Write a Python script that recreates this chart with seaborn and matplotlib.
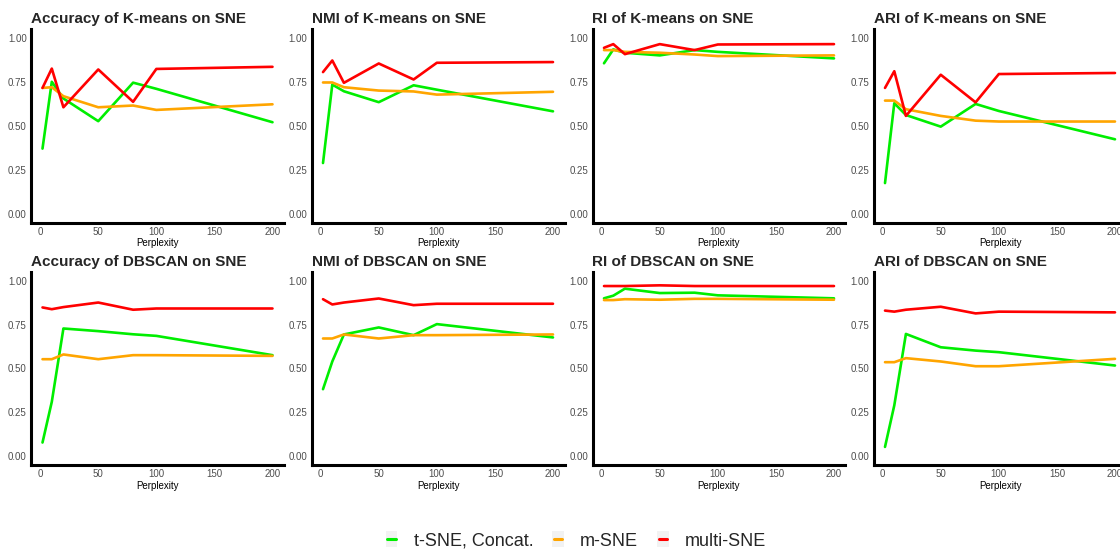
import numpy as np
import pandas as pd
import seaborn as sns
import matplotlib
matplotlib.use("Agg")
import matplotlib.pyplot as plt
from matplotlib.legend_handler import HandlerBase
from matplotlib.patches import Rectangle
from matplotlib.lines import Line2D

# ---------------- data ----------------
perplexity = [2, 10, 20, 50, 80, 100, 200]
methods = ["t-SNE, Concat.", "m-SNE", "multi-SNE"]

titles = [
    "Accuracy of K-means on SNE", "NMI of K-means on SNE",
    "RI of K-means on SNE", "ARI of K-means on SNE",
    "Accuracy of DBSCAN on SNE", "NMI of DBSCAN on SNE",
    "RI of DBSCAN on SNE", "ARI of DBSCAN on SNE",
]

# K-means
acc_km_tsne  = [0.37, 0.75, 0.655, 0.526, 0.745, 0.71, 0.52]
acc_km_msne  = [0.715, 0.719, 0.668, 0.605, 0.615, 0.59, 0.622]
acc_km_multi = [0.715, 0.825, 0.605, 0.82, 0.636, 0.823, 0.835]

nmi_km_tsne  = [0.288, 0.734, 0.696, 0.634, 0.73, 0.705, 0.582]
nmi_km_msne  = [0.746, 0.746, 0.719, 0.70, 0.695, 0.677, 0.693]
nmi_km_multi = [0.805, 0.871, 0.744, 0.854, 0.763, 0.858, 0.862]

ri_km_tsne   = [0.855, 0.934, 0.915, 0.90, 0.93, 0.92, 0.883]
ri_km_msne   = [0.93, 0.93, 0.92, 0.915, 0.905, 0.896, 0.90]
ri_km_multi  = [0.943, 0.964, 0.907, 0.964, 0.93, 0.962, 0.964]

ari_km_tsne  = [0.174, 0.628, 0.561, 0.495, 0.624, 0.584, 0.423]
ari_km_msne  = [0.643, 0.643, 0.594, 0.556, 0.529, 0.524, 0.524]
ari_km_multi = [0.715, 0.81, 0.556, 0.79, 0.633, 0.794, 0.80]

# DBSCAN
acc_db_tsne  = [0.078, 0.31, 0.728, 0.713, 0.695, 0.686, 0.576]
acc_db_msne  = [0.553, 0.553, 0.58, 0.553, 0.576, 0.576, 0.572]
acc_db_multi = [0.848, 0.838, 0.85, 0.876, 0.835, 0.842, 0.842]

nmi_db_tsne  = [0.382, 0.54, 0.694, 0.734, 0.69, 0.753, 0.677]
nmi_db_msne  = [0.671, 0.671, 0.694, 0.671, 0.69, 0.69, 0.694]
nmi_db_multi = [0.895, 0.865, 0.876, 0.899, 0.861, 0.869, 0.869]

ri_db_tsne   = [0.90, 0.915, 0.955, 0.93, 0.932, 0.917, 0.90]
ri_db_msne   = [0.89, 0.89, 0.895, 0.892, 0.897, 0.897, 0.892]
ri_db_multi  = [0.97, 0.97, 0.97, 0.974, 0.97, 0.97, 0.97]

ari_db_tsne  = [0.053, 0.29, 0.697, 0.621, 0.602, 0.593, 0.517]
ari_db_msne  = [0.536, 0.536, 0.559, 0.54, 0.513, 0.513, 0.555]
ari_db_multi = [0.83, 0.824, 0.835, 0.852, 0.814, 0.824, 0.82]

panels = [
    (acc_km_tsne, acc_km_msne, acc_km_multi),
    (nmi_km_tsne, nmi_km_msne, nmi_km_multi),
    (ri_km_tsne, ri_km_msne, ri_km_multi),
    (ari_km_tsne, ari_km_msne, ari_km_multi),
    (acc_db_tsne, acc_db_msne, acc_db_multi),
    (nmi_db_tsne, nmi_db_msne, nmi_db_multi),
    (ri_db_tsne, ri_db_msne, ri_db_multi),
    (ari_db_tsne, ari_db_msne, ari_db_multi),
]

colors = {"t-SNE, Concat.": "#00EE00", "m-SNE": "#FFA500", "multi-SNE": "#FF0000"}

# ---------------- style ----------------
sns.set_style("white")
plt.rcParams["font.family"] = ["Liberation Sans", "DejaVu Sans"]

W, H = 1120, 550
fig = plt.figure(figsize=(W / 100, H / 100), dpi=100)

lefts = [31, 311.5, 592.5, 873.5]
axw = 253
rows = [(29, 222.5), (272, 465)]  # (top, bottom) in px

for i, (title, vals) in enumerate(zip(titles, panels)):
    r, c = divmod(i, 4)
    top, bot = rows[r]
    ax = fig.add_axes([lefts[c] / W, 1 - bot / H, axw / W, (bot - top) / H])
    df = pd.DataFrame({
        "Perplexity": perplexity * 3,
        "value": list(vals[0]) + list(vals[1]) + list(vals[2]),
        "Method": sum([[m] * len(perplexity) for m in methods], []),
    })
    sns.lineplot(data=df, x="Perplexity", y="value", hue="Method",
                 hue_order=methods, palette=colors, linewidth=1.9,
                 legend=False, ax=ax, errorbar=None)
    ax.set_xlim(2 - 0.05 * 198, 200 + 0.05 * 198)
    ax.set_ylim(-0.05, 1.05)
    ax.set_xticks([0, 50, 100, 150, 200])
    ax.set_yticks([0, 0.25, 0.5, 0.75, 1.0])
    ax.set_yticklabels(["0.00", "0.25", "0.50", "0.75", "1.00"])
    ax.tick_params(axis="both", length=0, labelsize=7, labelcolor="#4D4D4D", pad=3)
    ax.set_xlabel("Perplexity", fontsize=7, color="black", labelpad=1)
    ax.set_ylabel("")
    ax.set_title(title, loc="left", fontsize=11, fontweight="bold", pad=4)
    ax.grid(False)
    for s in ["top", "right"]:
        ax.spines[s].set_visible(False)
    for s in ["left", "bottom"]:
        ax.spines[s].set_color("black")
        ax.spines[s].set_linewidth(2.2)


class KeyHandler(HandlerBase):
    def create_artists(self, legend, orig_handle, xdescent, ydescent,
                       width, height, fontsize, trans):
        x0, y0 = -xdescent, -ydescent
        rect = Rectangle((x0, y0 - 0.15 * height), width, height * 1.3,
                         facecolor="#F2F2F2", edgecolor="none", transform=trans)
        y = y0 + height / 2
        line = Line2D([x0 + 0.15 * width, x0 + 0.85 * width], [y, y],
                      color=orig_handle.get_color(), linewidth=2.2, transform=trans)
        return [rect, line]


handles = [Line2D([], [], color=colors[m]) for m in methods]
fig.legend(handles, methods, loc="center", bbox_to_anchor=(576 / W, 1 - 541 / H),
           ncol=3, frameon=False, fontsize=13, handlelength=0.65,
           handleheight=0.7, handletextpad=0.9, columnspacing=1.05,
           handler_map={Line2D: KeyHandler()})

fig.savefig("out.png", dpi=100)
